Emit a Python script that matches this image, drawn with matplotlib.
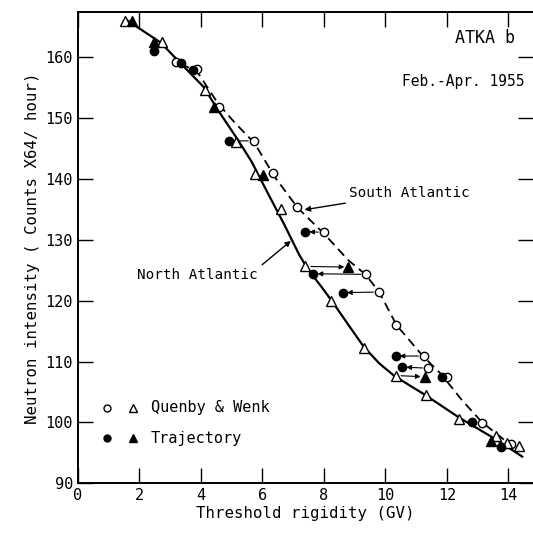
import matplotlib
matplotlib.use("Agg")
import matplotlib.pyplot as plt

plt.rcParams['font.family'] = ['DejaVu Sans Mono']

# Quenby & Wenk, South Atlantic (open circles)
qw_sa_x = [3.18, 3.89, 4.58, 5.72, 6.34, 7.12, 8.0, 9.38, 9.79, 10.36, 11.25, 11.39, 12.01, 13.13, 14.09]
qw_sa_y = [159.1, 158.0, 151.8, 146.2, 140.9, 135.3, 131.2, 124.3, 121.4, 116.0, 110.9, 108.9, 107.4, 99.9, 96.4]
# Quenby & Wenk, North Atlantic (open triangles)
qw_na_x = [1.55, 2.75, 4.15, 5.14, 5.75, 6.62, 7.40, 8.24, 9.32, 10.33, 11.32, 12.40, 13.59, 13.95, 14.33]
qw_na_y = [165.9, 162.4, 154.6, 146.0, 140.8, 135.0, 125.6, 120.0, 112.3, 107.7, 104.5, 100.6, 97.8, 96.7, 96.1]
# Trajectory, South Atlantic (filled circles)
tr_sa_x = [2.47, 3.34, 3.76, 4.9, 7.39, 7.66, 8.62, 10.33, 10.55, 11.83, 12.83, 13.75]
tr_sa_y = [161.0, 159.0, 157.9, 146.2, 131.3, 124.4, 121.3, 110.9, 109.1, 107.4, 100.0, 96.0]
# Trajectory, North Atlantic (filled triangles)
tr_na_x = [1.76, 2.47, 4.42, 6.01, 8.80, 11.28, 13.44]
tr_na_y = [165.8, 162.4, 151.7, 140.6, 125.5, 107.5, 97.0]

# shift arrows (from Quenby & Wenk value to trajectory value)
shift_from_x = [5.72, 8.0, 7.40, 9.38, 9.79, 11.25, 11.39, 10.33]
shift_from_y = [146.2, 131.2, 125.6, 124.3, 121.4, 110.9, 108.9, 107.7]
shift_to_x = [4.9, 7.39, 8.80, 7.66, 8.62, 10.33, 10.55, 11.28]
shift_to_y = [146.2, 131.3, 125.5, 124.4, 121.3, 110.9, 109.1, 107.5]

# North Atlantic curve (solid)
na_curve_x = [1.6, 2.7, 3.25, 4.1, 4.55, 5.2, 5.65, 6.2, 6.7, 7.2, 7.5, 7.9, 8.25, 8.8, 9.3, 9.8,
              10.3, 11.3, 12.4, 13.6, 14.45]
na_curve_y = [166.0, 162.3, 159.4, 155.0, 151.3, 146.4, 142.8, 137.4, 132.6, 127.5, 125.0, 122.4,
              120.0, 116.0, 112.4, 109.7, 107.6, 104.5, 100.8, 97.2, 94.4]
# South Atlantic curve (dashed)
sa_curve_x = [3.35, 3.9, 4.55, 5.1, 5.75, 6.4, 7.15, 8.0, 8.8, 9.35, 9.8, 10.36, 11.2, 11.8, 12.5, 13.13, 13.9, 14.2]
sa_curve_y = [158.9, 157.4, 152.4, 149.2, 145.8, 140.3, 135.2, 131.0, 126.6, 124.3, 121.4, 116.0, 111.0, 108.0, 103.6, 100.1, 97.0, 96.2]

x_ticks = [0, 2, 4, 6, 8, 10, 12, 14]
y_ticks = [90, 100, 110, 120, 130, 140, 150, 160]

fig = plt.figure(figsize=(5.33, 5.33), dpi=100)
ax = fig.add_axes([0.146, 0.093, 0.854, 0.884])

ax.plot(na_curve_x, na_curve_y, color='black', lw=1.6, zorder=2)
ax.plot(sa_curve_x, sa_curve_y, color='black', lw=1.3, ls=(0, (5, 3)), zorder=2)

for fx, fy, tx, ty in zip(shift_from_x, shift_from_y, shift_to_x, shift_to_y):
    ax.annotate('', xy=(tx, ty), xytext=(fx, fy),
                arrowprops=dict(arrowstyle='-|>', color='black', lw=0.8,
                                mutation_scale=7, shrinkA=4, shrinkB=3), zorder=3)

ms = 6.0
ax.plot(qw_sa_x, qw_sa_y, 'o', ms=ms, mfc='white', mec='black', mew=1.0, ls='none', zorder=4)
ax.plot(qw_na_x, qw_na_y, '^', ms=ms + 0.5, mfc='white', mec='black', mew=1.0, ls='none', zorder=4)
ax.plot(tr_sa_x, tr_sa_y, 'o', ms=ms, mfc='black', mec='black', ls='none', zorder=5)
ax.plot(tr_na_x, tr_na_y, '^', ms=ms + 0.5, mfc='black', mec='black', ls='none', zorder=5)

ax.set_xlim(0, 14.8)
ax.set_ylim(90, 167.3)
ax.set_xticks(x_ticks)
ax.set_yticks(y_ticks)
ax.tick_params(direction='in', length=11, width=1.0, labelsize=11,
               top=True, right=True, labeltop=False, labelright=False)
ax.spines['right'].set_visible(False)
for s in ['left', 'bottom', 'top']:
    ax.spines[s].set_linewidth(1.4)

ax.set_xlabel('Threshold rigidity (GV)', fontsize=11.3, labelpad=2)
ax.set_ylabel('Neutron intensity ( Counts X64/ hour)', fontsize=11.3, labelpad=4)

ax.text(14.21, 163.1, 'ATKA b', ha='right', va='center', fontsize=12)
ax.text(14.53, 155.9, 'Feb.-Apr. 1955', ha='right', va='center', fontsize=10.5)

ax.annotate('South Atlantic', xy=(7.37, 134.9), xytext=(8.83, 137.7), va='center', ha='left',
            fontsize=10.3,
            arrowprops=dict(arrowstyle='-|>', color='black', lw=1.0, mutation_scale=8, shrinkA=3, shrinkB=0))
ax.annotate('North Atlantic', xy=(6.93, 129.8), xytext=(1.94, 124.2), va='center', ha='left',
            fontsize=10.3,
            arrowprops=dict(arrowstyle='-|>', color='black', lw=1.0, mutation_scale=8, shrinkA=1, shrinkB=0,
                            relpos=(1.0, 1.0)))

# legend
ax.plot([0.95], [102.4], 'o', ms=5, mfc='white', mec='black', mew=1.0)
ax.plot([1.8], [102.4], '^', ms=6, mfc='white', mec='black', mew=1.0)
ax.text(2.37, 102.4, 'Quenby & Wenk', va='center', ha='left', fontsize=11)
ax.plot([0.95], [97.4], 'o', ms=5, mfc='black', mec='black')
ax.plot([1.8], [97.4], '^', ms=6, mfc='black', mec='black')
ax.text(2.37, 97.4, 'Trajectory', va='center', ha='left', fontsize=11)

fig.savefig('out.png', dpi=100)
